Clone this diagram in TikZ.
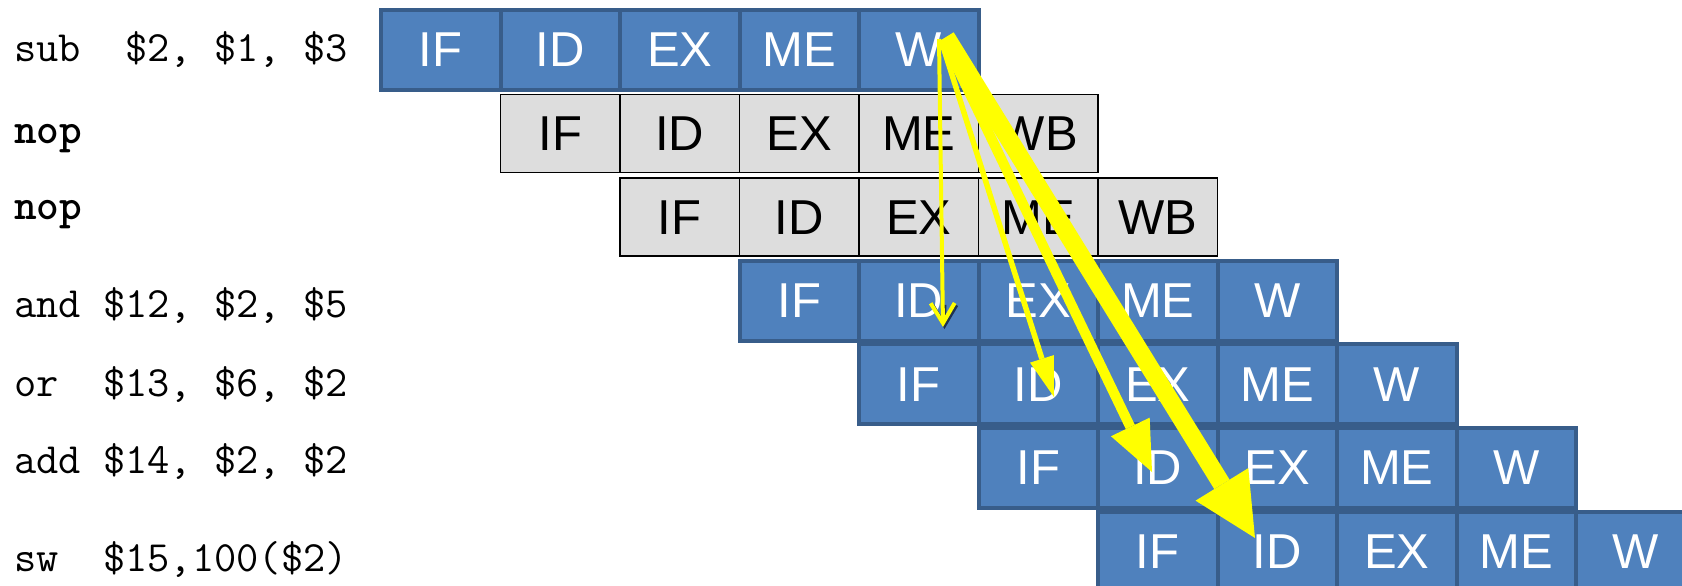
\documentclass[tikz,border=0pt]{standalone}
\usepackage{fontspec}
\usetikzlibrary{arrows.meta}
\newfontfamily\sansf{Liberation Sans}
\definecolor{cellblue}{HTML}{4F81BD}
\definecolor{cellbluedark}{HTML}{385D8A}
\definecolor{cellgray}{HTML}{DDDDDD}
\definecolor{hlyellow}{HTML}{FFFF00}
\definecolor{shadowc}{HTML}{1E3250}
\begin{document}
\begin{tikzpicture}[x=1pt,y=-1pt,
  bluecell/.style={rectangle, draw=cellbluedark, fill=cellblue, line width=4pt,
    minimum width=119.5pt, minimum height=80pt, inner sep=0pt, text=white,
    font=\sansf\fontsize{49}{52}\selectfont},
  graycell/.style={rectangle, draw=black, fill=cellgray, line width=1.5pt,
    minimum width=119.5pt, minimum height=78pt, inner sep=0pt, text=black,
    font=\sansf\fontsize{49}{52}\selectfont},
  instr/.style={anchor=base west, inner sep=0pt, font=\ttfamily\fontsize{43.2}{45}\selectfont},
  instrbold/.style={instr, font=\ttfamily\bfseries\fontsize{43.2}{45}\selectfont},
  fwdA/.style={draw=hlyellow, line width=4pt, -{Straight Barb[length=20pt,width=24pt]}},
  fwdAshadow/.style={draw=shadowc, line width=4pt, -{Straight Barb[length=20pt,width=24pt]}},
  fwdB/.style={draw=hlyellow, line width=5.5pt, -{Triangle[length=40pt,width=25pt,line width=0pt]}},
  fwdC/.style={draw=hlyellow, line width=10pt, -{Triangle[length=50pt,width=43pt,line width=0pt]}},
  fwdD/.style={draw=hlyellow, line width=18pt, -{Triangle[length=63pt,width=62pt,line width=0pt]}}
]
\useasboundingbox (0,0) rectangle (1682,586);
\fill[white] (0,0) rectangle (1682,586);
\clip (0,0) rectangle (1682,586);

% pipeline rows
\foreach \i in {0,3,4,5,6} {
  \foreach \k/\st in {0/IF,1/ID,2/EX,3/ME,4/W} {
    \node[bluecell] (c\i-\k) at ({381+119.5*(\i+\k)+59.75},{10+83.6*\i+40}) {\st};
  }
}
\foreach \i in {1,2} {
  \foreach \k/\st in {0/IF,1/ID,2/EX,3/ME,4/WB} {
    \node[graycell] (c\i-\k) at ({381+119.5*(\i+\k)+59.75},{10+83.6*\i+40}) {\st};
  }
}

% instruction labels
\node[instr] (l0) at (14,62) {sub\ \ \$2,\ \$1,\ \$3};
\node[instrbold] (l1) at (14,143) {nop};
\node[instrbold] (l2) at (14,219) {nop};
\node[instr] (l3) at (14,317) {and\ \$12,\ \$2,\ \$5};
\node[instr] (l4) at (14,396) {or\ \ \$13,\ \$6,\ \$2};
\node[instr] (l5) at (14,473) {add\ \$14,\ \$2,\ \$2};
\node[instr] (l6) at (14,571) {sw\ \ \$15,100(\$2)};

% forwarding arrows
\draw[fwdD] ([shift={(27.25,-13)}]c0-4.center) -- ([shift={(-22.25,-13.6)}]c6-1.center);
\draw[fwdC] ([shift={(25.25,-10)}]c0-4.center) -- ([shift={(-5.75,4)}]c5-1.center);
\draw[fwdB] ([shift={(22.25,-10)}]c0-4.center) -- ([shift={(15.75,12.6)}]c4-1.center);
\draw[fwdAshadow] ([shift={(25.6,4)}]c3-1.center) -- ([shift={(25.75,28.2)}]c3-1.center);
\draw[fwdA] ([shift={(20.25,-11)}]c0-4.center) -- ([shift={(24.25,26.2)}]c3-1.center);
\end{tikzpicture}
\end{document}
